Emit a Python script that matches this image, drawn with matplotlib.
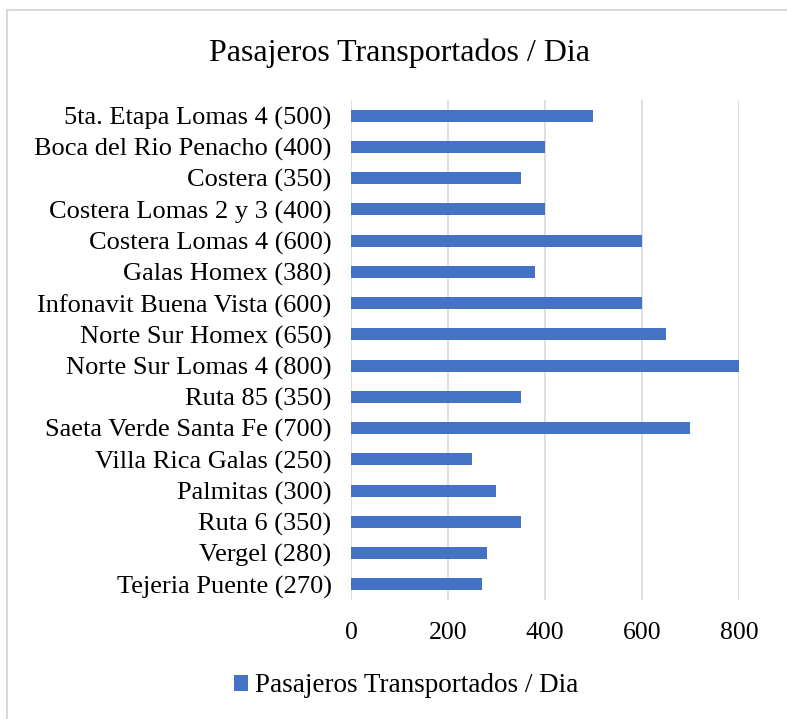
import matplotlib
matplotlib.use("Agg")
import matplotlib.pyplot as plt
from matplotlib.patches import Rectangle

plt.rcParams['font.family'] = ['Liberation Serif', 'DejaVu Serif']

rutas = ["5ta. Etapa Lomas 4 (500)", "Boca del Rio Penacho (400)", "Costera (350)",
         "Costera Lomas 2 y 3 (400)", "Costera Lomas 4 (600)", "Galas Homex (380)",
         "Infonavit Buena Vista (600)", "Norte Sur Homex (650)", "Norte Sur Lomas 4 (800)",
         "Ruta 85 (350)", "Saeta Verde Santa Fe (700)", "Villa Rica Galas (250)",
         "Palmitas (300)", "Ruta 6 (350)", "Vergel (280)", "Tejeria Puente (270)"]
pasajeros = [500, 400, 350, 400, 600, 380, 600, 650, 800, 350, 700, 250, 300, 350, 280, 270]
ticks = [0, 200, 400, 600, 800]
serie = "Pasajeros Transportados / Dia"

fig = plt.figure(figsize=(7.87, 7.19), dpi=100)
ax = fig.add_axes([0.446, 0.1655, 0.493, 0.6955])

pos = list(range(len(rutas)))[::-1]
ax.barh(pos, pasajeros, height=0.38, color='#4472C4', label=serie, zorder=3)
ax.set_yticks(pos)
ax.set_yticklabels(rutas, fontsize=19)
ax.set_ylim(-0.5, len(rutas) - 0.5)
ax.set_xlim(0, 800)
ax.set_xticks(ticks)
ax.set_xticklabels([str(t) for t in ticks], fontsize=18.5)
ax.tick_params(axis='y', length=0, pad=14)
ax.tick_params(axis='x', length=0, pad=16)
ax.grid(axis='x', color='#d9d9d9', lw=1.2, zorder=0)
for s in ax.spines.values():
    s.set_visible(False)

fig.text(0.508, 0.926, serie, ha='center', va='center', fontsize=23)
fig.legend(loc='center', bbox_to_anchor=(0.516, 0.046), frameon=False, fontsize=19.5,
           handlelength=0.5, handleheight=0.5, handletextpad=0.25)

fig.patches.append(Rectangle((7 / 787, -0.01), 1.0, 1 - 10 / 719 + 0.01,
                             transform=fig.transFigure, fill=False,
                             edgecolor='#d9d9d9', lw=1.5))

fig.savefig('out.png', dpi=100)
